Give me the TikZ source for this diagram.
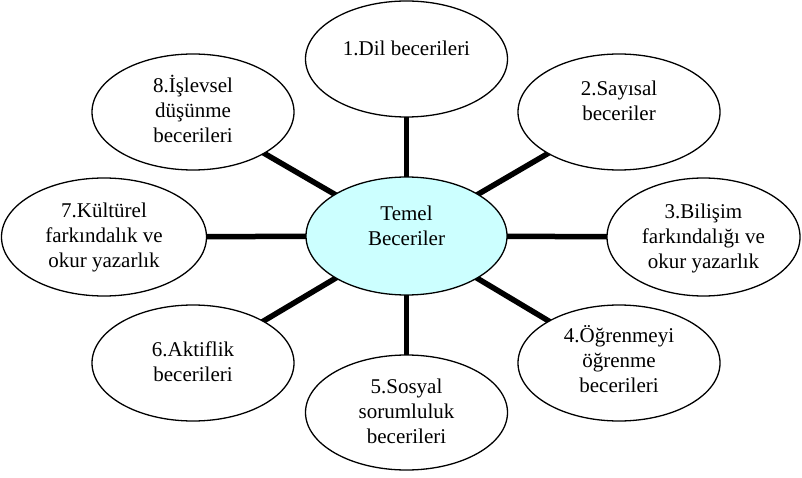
\documentclass[tikz,border=0pt]{standalone}
\usepackage{fontspec}
\setmainfont{Liberation Serif}
\usetikzlibrary{shapes.geometric,backgrounds}
\definecolor{hubfill}{RGB}{204,255,255}
\begin{document}
\begin{tikzpicture}[x=1pt,y=-1pt,
  bubble/.style={ellipse, draw=black, line width=1.3pt, fill=white, inner sep=0pt,
                 minimum width=202pt, minimum height=116pt},
  hub/.style={bubble, fill=hubfill, minimum width=201pt, minimum height=118pt},
  caption/.style={align=center, font=\fontsize{21}{25}\selectfont, inner sep=0pt},
  spoke/.style={line width=5.5pt}]
\useasboundingbox (0,0) rectangle (802,478);

% central ellipse and the eight skill ellipses around it
\node[hub] (hub) at (406.5,236) {};
\node[bubble] (e1) at (406.5,59) {};
\node[bubble] (e2) at (619,112) {};
\node[bubble, minimum width=193pt, minimum height=118pt] (e3) at (703.5,237) {};
\node[bubble] (e4) at (619,363) {};
\node[bubble, minimum height=115pt] (e5) at (406.5,412.5) {};
\node[bubble] (e6) at (193,363) {};
\node[bubble, minimum width=205pt, minimum height=118pt] (e7) at (104,237) {};
\node[bubble] (e8) at (193,112) {};

% labels
\node[caption] (t0) at (406.5,225.5) {Temel\\Beceriler};
\node[caption] (t1) at (406.5,48) {1.Dil becerileri};
\node[caption] (t2) at (619,100.5) {2.Sayısal\\beceriler};
\node[caption] (t3) at (703.5,238) {3.Bilişim\\farkındalığı ve\\okur yazarlık};
\node[caption] (t4) at (619,359.5) {4.Öğrenmeyi\\öğrenme\\becerileri};
\node[caption] (t5) at (406.5,411) {5.Sosyal\\sorumluluk\\becerileri};
\node[caption] (t6) at (193,362) {6.Aktiflik\\becerileri};
\node[caption] (t7) at (104,237.5) {7.Kültürel\\farkındalık ve\\okur yazarlık};
\node[caption] (t8) at (193,109) {8.İşlevsel\\düşünme\\becerileri};

% spokes from the hub to each skill
\begin{pgfonlayer}{background}
  \foreach \k in {1,...,8} {
    \draw[spoke] (hub.center) -- (e\k.center);
  }
\end{pgfonlayer}
\end{tikzpicture}
\end{document}
